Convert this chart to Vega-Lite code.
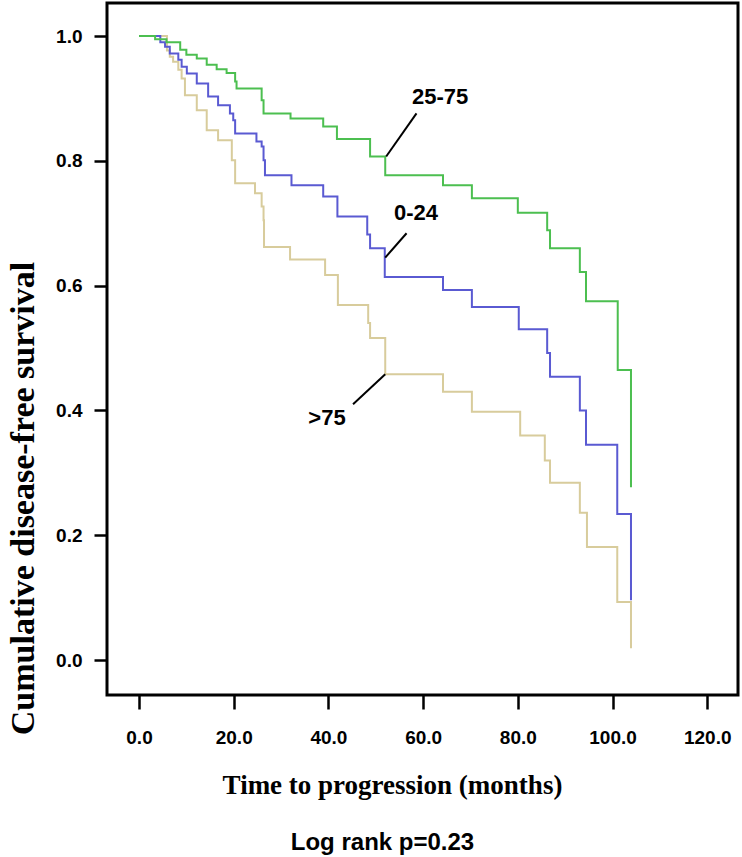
{
  "$schema": "https://vega.github.io/schema/vega-lite/v6.json",
  "width": 631,
  "height": 692,
  "autosize": "none",
  "padding": {"left": 107, "top": 3, "right": 4, "bottom": 162},
  "background": "white",
  "config": {
    "view": {"stroke": "black", "strokeWidth": 3},
    "axis": {
      "domain": false,
      "grid": false,
      "tickColor": "black",
      "tickWidth": 2.5,
      "labelColor": "black",
      "labelFont": "Liberation Sans",
      "labelFontWeight": "bold",
      "labelFontSize": 19,
      "titleColor": "black",
      "titleFont": "Liberation Serif",
      "titleFontWeight": "bold"
    }
  },
  "title": {
    "text": "Log rank p=0.23",
    "orient": "bottom",
    "anchor": "middle",
    "frame": "group",
    "dx": -40,
    "offset": 33,
    "font": "Liberation Sans",
    "fontSize": 24,
    "fontWeight": "bold",
    "color": "black"
  },
  "datasets": {
    "curves": [
      {"g": ">75", "t": 0, "v": 1.0}, {"g": ">75", "t": 5.9, "v": 0.977}, {"g": ">75", "t": 6.5, "v": 0.967}, {"g": ">75", "t": 7.2, "v": 0.959}, {"g": ">75", "t": 8.3, "v": 0.946}, {"g": ">75", "t": 9.0, "v": 0.932}, {"g": ">75", "t": 9.7, "v": 0.905}, {"g": ">75", "t": 12.2, "v": 0.881}, {"g": ">75", "t": 14.3, "v": 0.849}, {"g": ">75", "t": 16.7, "v": 0.833}, {"g": ">75", "t": 19.6, "v": 0.801}, {"g": ">75", "t": 20.3, "v": 0.764}, {"g": ">75", "t": 24.5, "v": 0.748}, {"g": ">75", "t": 25.9, "v": 0.727}, {"g": ">75", "t": 26.3, "v": 0.705}, {"g": ">75", "t": 26.4, "v": 0.662}, {"g": ">75", "t": 31.9, "v": 0.642}, {"g": ">75", "t": 39.3, "v": 0.617}, {"g": ">75", "t": 42.0, "v": 0.569}, {"g": ">75", "t": 48.4, "v": 0.54}, {"g": ">75", "t": 48.8, "v": 0.516}, {"g": ">75", "t": 52.0, "v": 0.458}, {"g": ">75", "t": 64.2, "v": 0.43}, {"g": ">75", "t": 70.3, "v": 0.398}, {"g": ">75", "t": 80.5, "v": 0.36}, {"g": ">75", "t": 85.7, "v": 0.32}, {"g": ">75", "t": 86.8, "v": 0.284}, {"g": ">75", "t": 93.1, "v": 0.236}, {"g": ">75", "t": 94.6, "v": 0.181}, {"g": ">75", "t": 101.0, "v": 0.093}, {"g": ">75", "t": 103.9, "v": 0.019},
      {"g": "0-24", "t": 0, "v": 1.0}, {"g": "0-24", "t": 4.5, "v": 0.99}, {"g": "0-24", "t": 5.5, "v": 0.983}, {"g": "0-24", "t": 6.5, "v": 0.972}, {"g": "0-24", "t": 8.3, "v": 0.962}, {"g": "0-24", "t": 9.0, "v": 0.951}, {"g": "0-24", "t": 10.1, "v": 0.94}, {"g": "0-24", "t": 12.2, "v": 0.924}, {"g": "0-24", "t": 14.6, "v": 0.903}, {"g": "0-24", "t": 16.7, "v": 0.889}, {"g": "0-24", "t": 19.2, "v": 0.876}, {"g": "0-24", "t": 19.9, "v": 0.865}, {"g": "0-24", "t": 20.3, "v": 0.844}, {"g": "0-24", "t": 24.8, "v": 0.831}, {"g": "0-24", "t": 25.9, "v": 0.823}, {"g": "0-24", "t": 26.3, "v": 0.801}, {"g": "0-24", "t": 26.6, "v": 0.777}, {"g": "0-24", "t": 32.2, "v": 0.761}, {"g": "0-24", "t": 38.9, "v": 0.743}, {"g": "0-24", "t": 41.9, "v": 0.711}, {"g": "0-24", "t": 48.2, "v": 0.682}, {"g": "0-24", "t": 48.8, "v": 0.66}, {"g": "0-24", "t": 51.9, "v": 0.614}, {"g": "0-24", "t": 64.2, "v": 0.593}, {"g": "0-24", "t": 70.3, "v": 0.566}, {"g": "0-24", "t": 80.2, "v": 0.53}, {"g": "0-24", "t": 86.2, "v": 0.492}, {"g": "0-24", "t": 86.8, "v": 0.454}, {"g": "0-24", "t": 93.1, "v": 0.4}, {"g": "0-24", "t": 94.4, "v": 0.345}, {"g": "0-24", "t": 101.0, "v": 0.234}, {"g": "0-24", "t": 103.9, "v": 0.096},
      {"g": "25-75", "t": 0, "v": 1.0}, {"g": "25-75", "t": 3.4, "v": 0.995}, {"g": "25-75", "t": 5.8, "v": 0.99}, {"g": "25-75", "t": 8.7, "v": 0.978}, {"g": "25-75", "t": 10.0, "v": 0.97}, {"g": "25-75", "t": 12.2, "v": 0.964}, {"g": "25-75", "t": 14.3, "v": 0.954}, {"g": "25-75", "t": 16.4, "v": 0.947}, {"g": "25-75", "t": 18.5, "v": 0.941}, {"g": "25-75", "t": 20.3, "v": 0.927}, {"g": "25-75", "t": 20.6, "v": 0.916}, {"g": "25-75", "t": 25.9, "v": 0.897}, {"g": "25-75", "t": 26.3, "v": 0.876}, {"g": "25-75", "t": 32.0, "v": 0.868}, {"g": "25-75", "t": 38.9, "v": 0.855}, {"g": "25-75", "t": 41.8, "v": 0.835}, {"g": "25-75", "t": 48.8, "v": 0.807}, {"g": "25-75", "t": 52.0, "v": 0.777}, {"g": "25-75", "t": 64.2, "v": 0.761}, {"g": "25-75", "t": 70.3, "v": 0.74}, {"g": "25-75", "t": 80.0, "v": 0.717}, {"g": "25-75", "t": 86.2, "v": 0.689}, {"g": "25-75", "t": 86.8, "v": 0.66}, {"g": "25-75", "t": 93.1, "v": 0.622}, {"g": "25-75", "t": 94.4, "v": 0.575}, {"g": "25-75", "t": 101.1, "v": 0.465}, {"g": "25-75", "t": 103.9, "v": 0.277}
    ],
    "leaders": [
      {"g": "25-75", "t": 58.6, "v": 0.876, "t2": 52.2, "v2": 0.807},
      {"g": "0-24", "t": 56.5, "v": 0.684, "t2": 52.0, "v2": 0.645},
      {"g": ">75", "t": 45.2, "v": 0.41, "t2": 52.0, "v2": 0.458}
    ],
    "labels": [
      {"label": "25-75", "t": 63.6, "v": 0.903},
      {"label": "0-24", "t": 58.5, "v": 0.716},
      {"label": ">75", "t": 39.7, "v": 0.388}
    ]
  },
  "layer": [
    {
      "data": {"name": "curves"},
      "mark": {"type": "line", "interpolate": "step-after", "strokeWidth": 2},
      "encoding": {
        "x": {
          "field": "t", "type": "quantitative",
          "scale": {"domain": [-6.76, 126.5], "nice": false, "zero": false},
          "axis": {
            "values": [0, 20, 40, 60, 80, 100, 120], "format": ".1f",
            "tickSize": 14, "labelPadding": 19, "labelDx": -7,
            "title": "Time to progression (months)", "titleFontSize": 27,
            "titleX": 285, "titleY": 90, "titleBaseline": "middle"
          }
        },
        "y": {
          "field": "v", "type": "quantitative",
          "scale": {"domain": [-0.056, 1.053], "nice": false, "zero": false},
          "axis": {
            "values": [0, 0.2, 0.4, 0.6, 0.8, 1.0], "format": ".1f",
            "tickSize": 13, "labelPadding": 12,
            "title": "Cumulative disease-free survival", "titleFontSize": 34,
            "titleX": -84, "titleY": 495, "titleBaseline": "middle"
          }
        },
        "color": {
          "field": "g", "type": "nominal",
          "scale": {"domain": [">75", "0-24", "25-75"], "range": ["#d8cc9c", "#5a5ad2", "#4cbf50"]},
          "legend": null
        },
        "order": {"field": "t"}
      }
    },
    {
      "data": {"name": "leaders"},
      "mark": {"type": "rule", "color": "black", "strokeWidth": 2},
      "encoding": {
        "x": {"field": "t", "type": "quantitative"},
        "y": {"field": "v", "type": "quantitative"},
        "x2": {"field": "t2"},
        "y2": {"field": "v2"}
      }
    },
    {
      "data": {"name": "labels"},
      "mark": {"type": "text", "font": "Liberation Sans", "fontWeight": "bold", "fontSize": 22, "color": "black", "baseline": "middle", "align": "center"},
      "encoding": {
        "x": {"field": "t", "type": "quantitative"},
        "y": {"field": "v", "type": "quantitative"},
        "text": {"field": "label"}
      }
    }
  ]
}
